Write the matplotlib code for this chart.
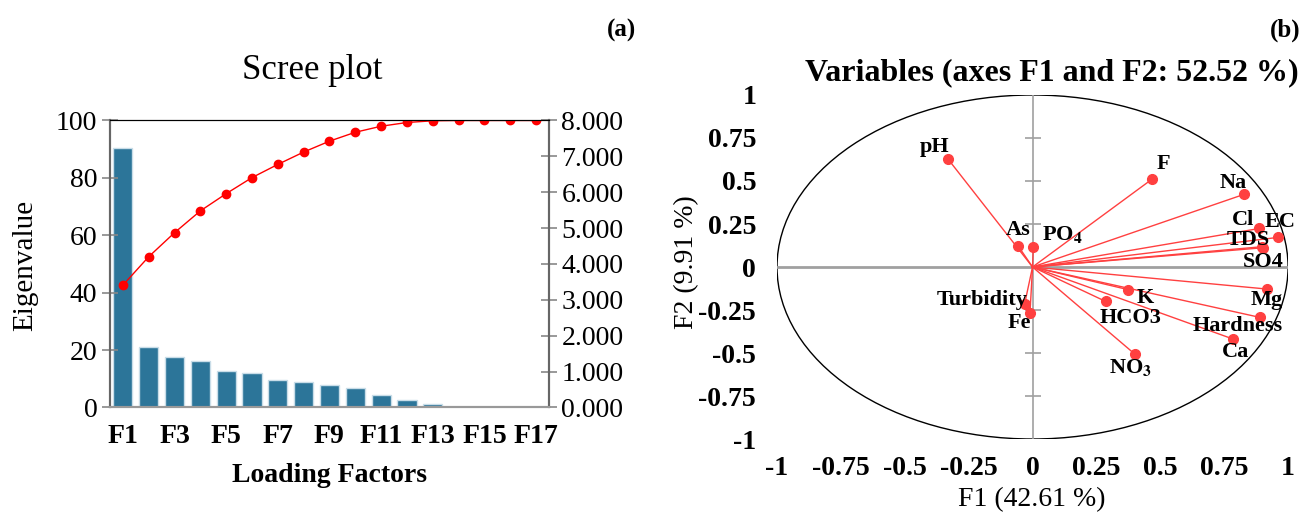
import numpy as np
import matplotlib
matplotlib.use("Agg")
import matplotlib.pyplot as plt
from matplotlib.patches import Circle

plt.rcParams['font.family'] = ['Liberation Serif', 'DejaVu Serif']
plt.rcParams['mathtext.fontset'] = 'stix'

# scree plot data
factors = ['F%d' % i for i in range(1, 18)]
eigenvalues = [7.244, 1.685, 1.42, 1.29, 1.02, 0.95, 0.78, 0.72, 0.64,
               0.53, 0.36, 0.22, 0.10, 0.02, 0.008, 0.005, 0.002]
cumulative = [42.61, 52.52, 60.9, 68.5, 74.5, 80.1, 84.7, 89.0, 92.8,
              95.9, 98.0, 99.3, 99.9, 100.0, 100.0, 100.0, 100.0]

# correlation circle data (loadings on F1 / F2)
variables = ['pH', 'F', 'Na', 'Cl', 'EC', 'TDS', 'SO4', 'As', r'PO$_\mathbf{4}$',
             'Mg', 'Hardness', 'Ca', 'K', 'HCO3', r'NO$_\mathbf{3}$', 'Turbidity', 'Fe']
f1_load = [-0.33, 0.467, 0.829, 0.888, 0.960, 0.899, 0.902, -0.057, 0.003,
           0.916, 0.890, 0.785, 0.375, 0.286, 0.40, -0.031, -0.010]
f2_load = [0.626, 0.51, 0.423, 0.224, 0.172, 0.118, 0.112, 0.124, 0.114,
           -0.128, -0.293, -0.419, -0.132, -0.20, -0.506, -0.215, -0.267]
# label offsets in points and alignment
lab_off = [(-10, 9, 'center'), (8, 11, 'center'), (-8, 8, 'center'), (-12, 6, 'center'),
           (1.5, 11, 'center'), (-10, 5, 'center'), (0, -10, 'center'), (0, 11, 'center'),
           (6, 9.5, 'left'), (0, -8, 'center'), (-16, -6, 'center'), (1.5, -9, 'center'),
           (12, -6, 'center'), (18, -12, 'center'), (-3, -9.5, 'center'), (2, 3, 'right'),
           (-8, -7.5, 'center')]
circle_ticks = [-0.75, -0.5, -0.25, 0.25, 0.5, 0.75]
axis_ticks = [-1, -0.75, -0.5, -0.25, 0, 0.25, 0.5, 0.75, 1]

fig = plt.figure(figsize=(13.09, 5.16), dpi=100)

# ---- (a) scree plot ----
ax = fig.add_axes([0.0840, 0.2103, 0.3354, 0.5562])
ax2 = ax.twinx()
x = np.arange(len(factors))
ax2.bar(x, eigenvalues, width=0.74, color='#2c7599', edgecolor='#c9dde8', linewidth=1.0)
ax.plot(x, cumulative, color='red', lw=1, marker='o', ms=6)
ax.set_zorder(ax2.get_zorder() + 1)
ax.patch.set_visible(False)

ax.set_xlim(-0.5, 16.5)
ax.set_ylim(0, 100)
ax2.set_ylim(0, 8)
ax.set_yticks([0, 20, 40, 60, 80, 100])
ax2.set_yticks(range(0, 9))
ax2.set_yticklabels(['%.3f' % v for v in range(0, 9)])
ax.set_xticks(x[::2])
ax.set_xticklabels(factors[::2], fontweight='bold', fontsize=20)
ax.tick_params(axis='x', length=0, pad=12)
for a in (ax, ax2):
    a.tick_params(axis='y', direction='inout', length=12, width=1.2,
                  color='#888888', labelsize=20, pad=3)
    a.spines['left'].set_color('#666666')
    a.spines['right'].set_color('#666666')
    a.spines['bottom'].set_color('#999999')
    a.spines['top'].set_color('black')
    for s in ('left', 'right', 'bottom'):
        a.spines[s].set_linewidth(1.5)

fig.text(312 / 1309, 1 - 79 / 516, 'Scree plot', fontsize=25, ha='center', va='baseline')
fig.text(25 / 1309, 1 - 265 / 516, 'Eigenvalue', fontsize=21, rotation=90,
         ha='center', va='center')
fig.text(330 / 1309, 1 - 482 / 516, 'Loading Factors', fontsize=20,
         fontweight='bold', ha='center', va='baseline')
fig.text(621 / 1309, 1 - 30 / 516, '(a)', fontsize=18, fontweight='bold',
         ha='center', va='center')

# ---- (b) correlation circle ----
axr = fig.add_axes([0.5936, 0.1492, 0.3904, 0.6667])
axr.set_xlim(-1, 1)
axr.set_ylim(-1, 1)
for s in axr.spines.values():
    s.set_visible(False)
axr.add_patch(Circle((0, 0), 1, fill=False, edgecolor='black', lw=1))
axr.axhline(0, color='#a0a0a0', lw=2, zorder=1)
axr.axvline(0, color='#a0a0a0', lw=1.2, zorder=1)
axr.plot(np.zeros(len(circle_ticks)), circle_ticks, ls='none', marker='_',
         ms=11, mew=1.2, color='#a0a0a0')

for name, fx, fy, (dx, dy, ha) in zip(variables, f1_load, f2_load, lab_off):
    axr.plot([0, fx], [0, fy], color='#ff4040', lw=1, zorder=3)
    axr.plot(fx, fy, 'o', color='#ff4040', ms=7, zorder=4)
    axr.annotate(name, (fx, fy), xytext=(dx, dy), textcoords='offset points',
                 ha=ha, va='center', fontsize=16, fontweight='bold', zorder=5)

axr.set_xticks(axis_ticks)
axr.set_yticks(axis_ticks)
axr.set_xticklabels(['%g' % v for v in axis_ticks], fontweight='bold', fontsize=20)
axr.set_yticklabels(['%g' % v for v in axis_ticks], fontweight='bold', fontsize=20)
axr.tick_params(length=0, pad=12)
axr.tick_params(axis='y', pad=15)

fig.text(1052 / 1309, 1 - 80 / 516, 'Variables (axes F1 and F2: 52.52 %)', fontsize=23,
         fontweight='bold', ha='center', va='baseline')
fig.text(1032 / 1309, 1 - 500 / 516, 'F1 (42.61 %)', fontsize=20, ha='center', va='center')
fig.text(687 / 1309, 1 - 262 / 516, 'F2 (9.91 %)', fontsize=20, rotation=90,
         ha='center', va='center')
fig.text(1285 / 1309, 1 - 30 / 516, '(b)', fontsize=18, fontweight='bold',
         ha='center', va='center')

fig.savefig('out.png', dpi=100)
